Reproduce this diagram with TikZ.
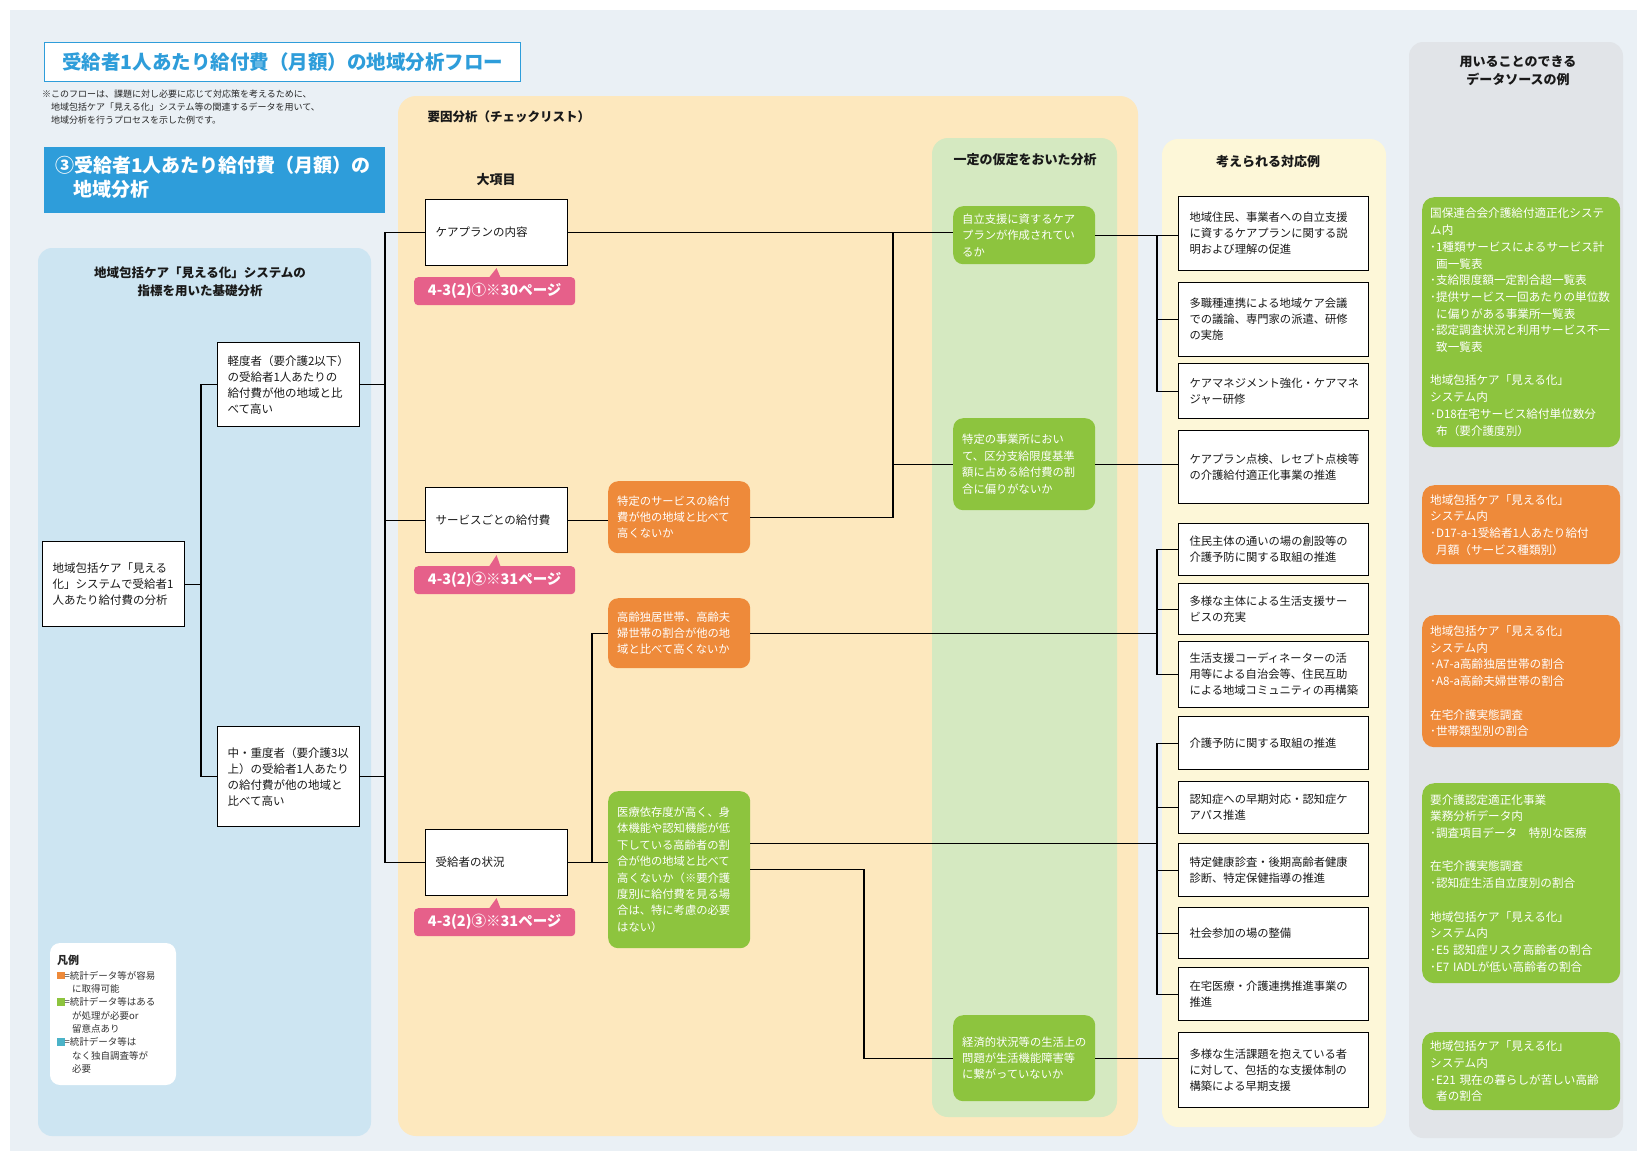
\documentclass[tikz,border=0pt]{standalone}
\usepackage{fontspec}
\setmainfont{Noto Sans CJK JP}
\usetikzlibrary{calc}
\definecolor{bgc}{HTML}{EAF0F5}
\definecolor{bluep}{HTML}{CDE5F2}
\definecolor{orangep}{HTML}{FDE8BE}
\definecolor{greenp}{HTML}{D5E9C1}
\definecolor{yellowp}{HTML}{FDF7D8}
\definecolor{grayp}{HTML}{E1E4E8}
\definecolor{orangen}{HTML}{EE8A3A}
\definecolor{greenn}{HTML}{8DC43E}
\definecolor{pinkt}{HTML}{E6608A}
\definecolor{blueh}{HTML}{2E9DDA}
\definecolor{legblue}{HTML}{4BB3C8}
\newcommand{\legsq}[1]{\textcolor{#1}{\rule{7.5pt}{7.5pt}}}
\begin{document}
\begin{tikzpicture}[x=1pt,y=-1pt,
  conn/.style={draw=black, line width=1.1pt},
  wbox/.style={draw=black, line width=1.1pt, fill=white, anchor=north west, align=left,
    text=black!90, font=\fontsize{11.5pt}{16pt}\selectfont, inner ysep=2pt},
  lbox/.style={wbox, text width=122pt, inner xsep=10pt},
  rbox/.style={wbox, text width=168pt, inner xsep=11pt, font=\fontsize{11.3pt}{16pt}\selectfont},
  cnode/.style={anchor=north west, rounded corners=10pt, align=left, text=white,
    text width=124pt, inner xsep=9pt, inner ysep=2pt, font=\fontsize{11.3pt}{16.4pt}\selectfont},
  onode/.style={cnode, fill=orangen},
  gnode/.style={cnode, fill=greenn},
  dsbox/.style={anchor=north west, rounded corners=12pt, align=left, text=white,
    text width=182pt, inner xsep=8pt, inner ysep=2pt, font=\fontsize{11.6pt}{16.7pt}\selectfont},
  tagbox/.style={anchor=north west, fill=pinkt, rounded corners=4pt, text=white,
    font=\bfseries\fontsize{14.5pt}{16pt}\selectfont, minimum width=161pt, minimum height=28pt, inner sep=0pt},
  ptitle/.style={font=\bfseries\fontsize{13pt}{18pt}\selectfont, align=center, text=black!90},
]
\useasboundingbox (0,0) rectangle (1637,1151);
% page background
\fill[white] (0,0) rectangle (1637,1151);
\fill[bgc] (10,10) rectangle (1637,1151);

% heading
\node[draw=blueh, line width=1.2pt, fill=white, anchor=north west, minimum width=476pt, minimum height=39pt,
  text=blueh, font=\bfseries\fontsize{19.5pt}{21pt}\selectfont] (title) at (44,42)
  {受給者1人あたり給付費（月額）の地域分析フロー};
\node[anchor=north west, align=left, inner sep=0pt, text=black!85,
  font=\fontsize{9pt}{13pt}\selectfont] (note) at (42,90)
  {※このフローは、課題に対し必要に応じて対応策を考えるために、\\\hspace*{9pt}地域包括ケア「見える化」システム等の関連するデータを用いて、\\\hspace*{9pt}地域分析を行うプロセスを示した例です。};
\node[fill=blueh, anchor=north west, minimum width=341pt, minimum height=66pt] (head) at (44,147) {};
\node[anchor=north west, align=left, inner sep=0pt, text=white,
  font=\bfseries\fontsize{19pt}{24pt}\selectfont] (headtext) at (55,156)
  {③受給者1人あたり給付費（月額）の\\\hspace*{18pt}地域分析};

% column panels
\fill[bluep, rounded corners=14pt] (38,248) rectangle (371,1136);
\fill[orangep, rounded corners=18pt] (398,96) rectangle (1138,1136);
\fill[greenp, rounded corners=16pt] (932,138) rectangle (1117,1117);
\fill[yellowp, rounded corners=16pt] (1162,139) rectangle (1386,1127);
\fill[grayp, rounded corners=14pt] (1409,42) rectangle (1623,1138);

% column headings
\node[ptitle, font=\bfseries\fontsize{12.5pt}{18pt}\selectfont] (t1) at (200,282)
  {地域包括ケア「見える化」システムの\\指標を用いた基礎分析};
\node[ptitle, anchor=west, font=\bfseries\fontsize{12.5pt}{18pt}\selectfont] (t2) at (424,117) {要因分析（チェックリスト）};
\node[ptitle] (t3) at (496,180) {大項目};
\node[ptitle] (t4) at (1025,160) {一定の仮定をおいた分析};
\node[ptitle] (t5) at (1268,162) {考えられる対応例};
\node[ptitle] (t6) at (1518,71) {用いることのできる\\データソースの例};

% basic analysis
\node[lbox, minimum height=85pt] (root) at (42,541) {地域包括ケア「見える\\化」システムで受給者1\\人あたり給付費の分析};
\node[lbox, minimum height=84pt] (light) at (217,342) {軽度者（要介護2以下）\\の受給者1人あたりの\\給付費が他の地域と比\\べて高い};
\node[lbox, minimum height=100pt] (heavy) at (217,726) {中・重度者（要介護3以\\上）の受給者1人あたり\\の給付費が他の地域と\\比べて高い};

% main items
\node[lbox, minimum height=66pt] (careplan) at (425,199) {ケアプランの内容};
\node[lbox, minimum height=65pt] (service) at (425,487) {サービスごとの給付費};
\node[lbox, minimum height=66pt] (recipient) at (425,829) {受給者の状況};

\node[tagbox] (tag1) at (414,277) {4-3(2)①※30ページ};
\node[tagbox] (tag2) at (414,566) {4-3(2)②※31ページ};
\node[tagbox] (tag3) at (414,908) {4-3(2)③※31ページ};
\fill[pinkt] ($(tag1.north)+(-6,1)$) -- ($(careplan.south)+(0,2)$) -- ($(tag1.north)+(6,1)$) -- cycle;
\fill[pinkt] ($(tag2.north)+(-6,1)$) -- ($(service.south)+(0,2)$) -- ($(tag2.north)+(6,1)$) -- cycle;
\fill[pinkt] ($(tag3.north)+(-6,1)$) -- ($(recipient.south)+(0,2)$) -- ($(tag3.north)+(6,1)$) -- cycle;

% checklist items
\node[onode, minimum height=72pt] (o1) at (608,481) {特定のサービスの給付\\費が他の地域と比べて\\高くないか};
\node[onode, minimum height=70pt] (o2) at (608,598) {高齢独居世帯、高齢夫\\婦世帯の割合が他の地\\域と比べて高くないか};
\node[gnode, minimum height=157pt] (gbig) at (608,791) {医療依存度が高く、身\\体機能や認知機能が低\\下している高齢者の割\\合が他の地域と比べて\\高くないか（※要介護\\度別に給付費を見る場\\合は、特に考慮の必要\\はない）};

% hypothesis analysis
\node[gnode, minimum height=58pt] (g1) at (953,206) {自立支援に資するケア\\プランが作成されてい\\るか};
\node[gnode, minimum height=92pt] (g2) at (953,418) {特定の事業所におい\\て、区分支給限度基準\\額に占める給付費の割\\合に偏りがないか};
\node[gnode, minimum height=86pt] (g3) at (953,1015) {経済的状況等の生活上の\\問題が生活機能障害等\\に繋がっていないか};

% possible responses
\node[rbox, minimum height=74pt] (R1) at (1178,196) {地域住民、事業者への自立支援\\に資するケアプランに関する説\\明および理解の促進};
\node[rbox, minimum height=74pt] (R2) at (1178,282) {多職種連携による地域ケア会議\\での議論、専門家の派遣、研修\\の実施};
\node[rbox, minimum height=55pt] (R3) at (1178,363) {ケアマネジメント強化・ケアマネ\\ジャー研修};
\node[rbox, minimum height=73pt] (R4) at (1178,430) {ケアプラン点検、レセプト点検等\\の介護給付適正化事業の推進};
\node[rbox, minimum height=52pt] (R5) at (1178,523) {住民主体の通いの場の創設等の\\介護予防に関する取組の推進};
\node[rbox, minimum height=51pt] (R6) at (1178,583) {多様な主体による生活支援サー\\ビスの充実};
\node[rbox, minimum height=66pt] (R7) at (1178,641) {生活支援コーディネーターの活\\用等による自治会等、住民互助\\による地域コミュニティの再構築};
\node[rbox, minimum height=53pt] (R8) at (1178,716) {介護予防に関する取組の推進};
\node[rbox, minimum height=52pt] (R9) at (1178,781) {認知症への早期対応・認知症ケ\\アパス推進};
\node[rbox, minimum height=53pt] (R10) at (1178,843) {特定健康診査・後期高齢者健康\\診断、特定保健指導の推進};
\node[rbox, minimum height=51pt] (R11) at (1178,907) {社会参加の場の整備};
\node[rbox, minimum height=53pt] (R12) at (1178,967) {在宅医療・介護連携推進事業の\\推進};
\node[rbox, minimum height=75pt] (R13) at (1178,1032) {多様な生活課題を抱えている者\\に対して、包括的な支援体制の\\構築による早期支援};

% data sources
\node[dsbox, fill=greenn, minimum height=250pt] (ds1) at (1422,197) {国保連合会介護給付適正化システ\\ム内\\･1種類サービスによるサービス計\\\hspace*{6pt}画一覧表\\･支給限度額一定割合超一覧表\\･提供サービス一回あたりの単位数\\\hspace*{6pt}に偏りがある事業所一覧表\\･認定調査状況と利用サービス不一\\\hspace*{6pt}致一覧表\\[16.7pt]地域包括ケア「見える化」\\システム内\\･D18在宅サービス給付単位数分\\\hspace*{6pt}布（要介護度別）};
\node[dsbox, fill=orangen, minimum height=79pt] (ds2) at (1422,485) {地域包括ケア「見える化」\\システム内\\･D17-a-1受給者1人あたり給付\\\hspace*{6pt}月額（サービス種類別）};
\node[dsbox, fill=orangen, minimum height=132pt] (ds3) at (1422,615) {地域包括ケア「見える化」\\システム内\\･A7-a高齢独居世帯の割合\\･A8-a高齢夫婦世帯の割合\\[16.7pt]在宅介護実態調査\\･世帯類型別の割合};
\node[dsbox, fill=greenn, minimum height=200pt] (ds4) at (1422,783) {要介護認定適正化事業\\業務分析データ内\\･調査項目データ　特別な医療\\[16.7pt]在宅介護実態調査\\･認知症生活自立度別の割合\\[16.7pt]地域包括ケア「見える化」\\システム内\\･E5 認知症リスク高齢者の割合\\･E7 IADLが低い高齢者の割合};
\node[dsbox, fill=greenn, minimum height=78pt] (ds5) at (1422,1032) {地域包括ケア「見える化」\\システム内\\･E21 現在の暮らしが苦しい高齢\\\hspace*{6pt}者の割合};

% legend
\fill[white, rounded corners=10pt] (50,943) rectangle (176,1085);
\node[anchor=north west, inner sep=0pt, font=\bfseries\fontsize{11pt}{13pt}\selectfont, text=black!85] (legtitle) at (57,955) {凡例};
\node[anchor=north west, inner sep=0pt, align=left, text=black!80,
  font=\fontsize{9.5pt}{13.3pt}\selectfont] (legend) at (57,971)
  {\legsq{orangen}=統計データ等が容易\\\hspace*{15pt}に取得可能\\\legsq{greenn}=統計データ等はある\\\hspace*{15pt}が処理が必要or\\\hspace*{15pt}留意点あり\\\legsq{legblue}=統計データ等は\\\hspace*{15pt}なく独自調査等が\\\hspace*{15pt}必要};

% trunk positions of the connector trees
\coordinate (tA) at (201,0);
\coordinate (tB) at (385,0);
\coordinate (tE) at (592,0);
\coordinate (tF) at (864,0);
\coordinate (tC) at (893,0);
\coordinate (tD) at (1157,0);

% connectors
\draw[conn] (root.east) -- (root.east -| tA);
\draw[conn] (light.west) -| (tA |- heavy.west) -- (heavy.west);
\draw[conn] (light.east) -- (light.east -| tB);
\draw[conn] (heavy.east) -- (heavy.east -| tB);
\draw[conn] (careplan.west) -| (tB |- recipient.west) -- (recipient.west);
\draw[conn] (service.west) -- (service.west -| tB);
\draw[conn] (careplan.east) -- (careplan.east -| g1.west);
\draw[conn] (service.east) -- (service.east -| o1.west);
\draw[conn] (o1.east) -| (tC |- careplan.east);
\draw[conn] (tC |- g2.west) -- (g2.west);
\draw[conn] (g1.east) -- (g1.east -| R1.west);
\draw[conn] (tD |- g1.east) |- (R3.west);
\draw[conn] (R2.west) -- (R2.west -| tD);
\draw[conn] (g2.east) -- (g2.east -| R4.west);
\draw[conn] (o2.west) -| (tE |- recipient.east);
\draw[conn] (recipient.east) -- (recipient.east -| gbig.west);
\draw[conn] (o2.east) -- (o2.east -| tD);
\draw[conn] (R5.west) -| (tD |- R7.west) -- (R7.west);
\draw[conn] (R6.west) -- (R6.west -| tD);
\draw[conn] ([yshift=26pt]gbig.east) -- ([yshift=26pt]gbig.east -| tD);
\draw[conn] (R8.west) -| (tD |- R12.west) -- (R12.west);
\draw[conn] (R9.west) -- (R9.west -| tD);
\draw[conn] (R10.west) -- (R10.west -| tD);
\draw[conn] (R11.west) -- (R11.west -| tD);
\draw[conn] (gbig.east) -| (tF |- g3.west) -- (g3.west);
\draw[conn] (g3.east) -- (g3.east -| R13.west);
\end{tikzpicture}
\end{document}
